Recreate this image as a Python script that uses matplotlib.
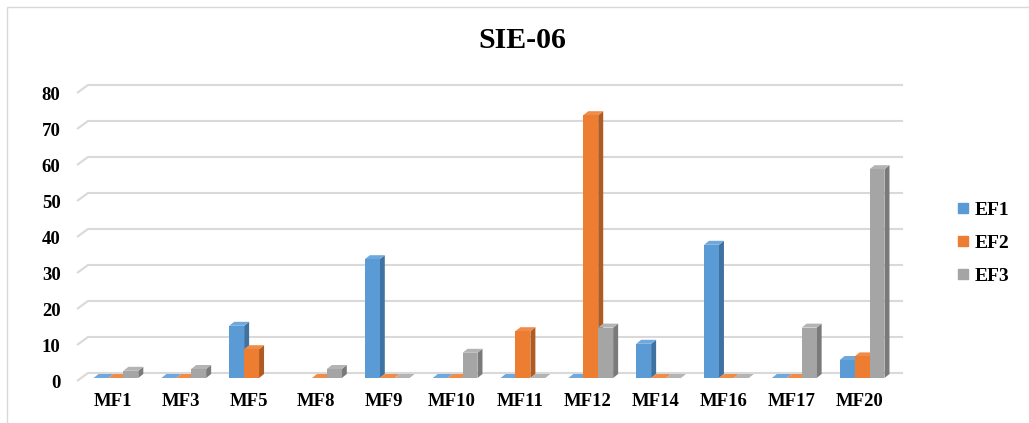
import numpy as np
import matplotlib
matplotlib.use("Agg")
import matplotlib.pyplot as plt
from matplotlib.patches import Polygon, Rectangle
from matplotlib.lines import Line2D
from matplotlib.transforms import ScaledTranslation

# Data
categories = ["MF1", "MF3", "MF5", "MF8", "MF9", "MF10", "MF11", "MF12",
              "MF14", "MF16", "MF17", "MF20"]
ef1 = [0, 0, 14.5, np.nan, 33, 0, 0, 0, 9.5, 37, 0, 5]
ef2 = [0, 0, 8, 0, 0, 0, 13, 73, 0, 0, 0, 6]
ef3 = [2, 2.5, np.nan, 2.5, 0, 7, 0, 14, 0, 0, 14, 58]
series_names = ["EF1", "EF2", "EF3"]
yticks = [0, 10, 20, 30, 40, 50, 60, 70, 80]

front_colors = ["#5B9BD5", "#ED7D31", "#A5A5A5"]
side_colors = ["#3F72A1", "#B05B22", "#7A7A7A"]
top_colors = ["#6FA8DC", "#F08C48", "#B4B4B4"]

W, H = 1029, 423
fig = plt.figure(figsize=(W / 100, H / 100), dpi=100)
fig.patch.set_facecolor("white")
ax = fig.add_axes([82 / W, 45 / H, 814 / W, 288 / H])
ax.set_xlim(-0.5, len(categories) - 0.5)
ax.set_ylim(0, 80)
for s in ax.spines.values():
    s.set_visible(False)
ax.patch.set_visible(False)

font = "Liberation Serif"

# pixel -> data unit conversion for the pseudo-3D offsets
px_x = (ax.transData.transform((1, 0)) - ax.transData.transform((0, 0)))[0]
px_y = (ax.transData.transform((0, 1)) - ax.transData.transform((0, 0)))[1]

def dxu(p):
    return p / px_x

def dyu(p):
    return p / px_y

x0, x1 = ax.get_xlim()

# back wall gridlines with side-wall diagonals
for v in yticks:
    xs = [x0 + dxu(-5), x0 + dxu(6), x1 + dxu(7)]
    ys = [v + dyu(-3), v + dyu(5), v + dyu(5)]
    ax.add_line(Line2D(xs, ys, color="#D9D9D9", lw=1.5, zorder=1,
                       clip_on=False, solid_capstyle="butt"))

# bars with side and top faces
w = 0.22
ddx, ddy = dxu(5), dyu(4)
idx = np.arange(len(categories))
for i, vals in enumerate([ef1, ef2, ef3]):
    for j, v in enumerate(vals):
        if np.isnan(v):
            continue
        xc = idx[j] + (i - 1) * w
        xl, xr = xc - w / 2, xc + w / 2
        z = 3 + i
        side = Polygon([(xr, 0), (xr + ddx, ddy), (xr + ddx, v + ddy), (xr, v)],
                       closed=True, facecolor=side_colors[i], edgecolor="none",
                       zorder=z)
        top = Polygon([(xl, v), (xl + ddx, v + ddy), (xr + ddx, v + ddy), (xr, v)],
                      closed=True, facecolor=top_colors[i], edgecolor="none",
                      zorder=z)
        ax.add_patch(side)
        ax.add_patch(top)
    ax.bar(idx + (i - 1) * w, np.nan_to_num(vals), width=w,
           color=front_colors[i], zorder=3 + i + 0.5, linewidth=0)

# ticks
ax.set_yticks(yticks)
ax.set_yticklabels([str(t) for t in yticks], fontfamily=font,
                   fontweight="bold", fontsize=13.5)
ax.set_xticks(idx)
ax.set_xticklabels(categories, fontfamily=font, fontweight="bold",
                   fontsize=13.5)
ax.tick_params(axis="y", length=0, pad=14)
ax.tick_params(axis="x", length=0, pad=11)
shift = ScaledTranslation(-2 / 100, -3 / 100, fig.dpi_scale_trans)
for lab in ax.get_yticklabels():
    lab.set_transform(lab.get_transform() + shift)
shiftx = ScaledTranslation(-3 / 100, 0, fig.dpi_scale_trans)
for lab in ax.get_xticklabels():
    lab.set_transform(lab.get_transform() + shiftx)

# title
fig.text(522 / W, 1 - 40 / H, "SIE-06", ha="center", va="center",
         fontfamily=font, fontweight="bold", fontsize=21.5)

# legend
handles = [Line2D([], [], marker="s", linestyle="none", markersize=6.5,
                  markerfacecolor=c, markeredgecolor=c) for c in front_colors]
fig.legend(handles, series_names, loc="center left",
           bbox_to_anchor=(957 / W, 1 - 243 / H), frameon=False,
           prop={"family": font, "weight": "bold", "size": 14},
           handlelength=0.6, handletextpad=0.3, labelspacing=0.78,
           borderpad=0, borderaxespad=0)

# chart border
fig.patches.append(Rectangle((7 / W, -0.1), 1.2, (H - 7) / H + 0.1,
                             transform=fig.transFigure, fill=False,
                             edgecolor="#D9D9D9", lw=1.0, zorder=0))

fig.savefig("out.png", dpi=100, facecolor="white")
